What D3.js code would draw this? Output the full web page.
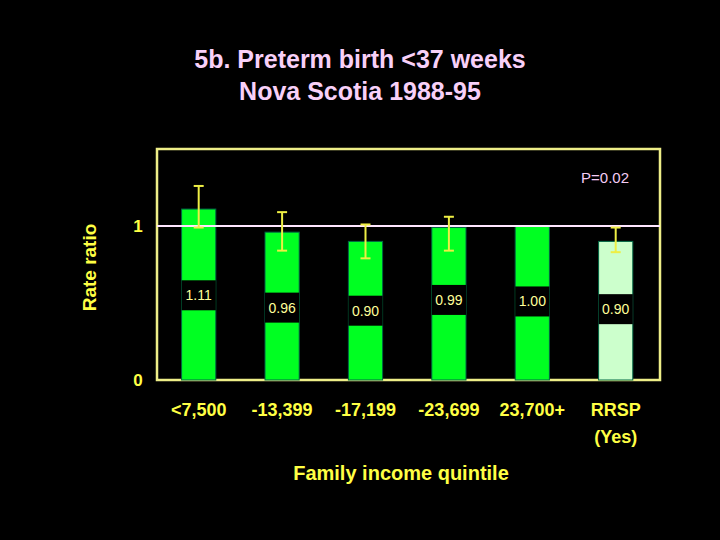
<!DOCTYPE html>
<html><head><meta charset="utf-8">
<script src="https://cdn.jsdelivr.net/npm/d3@7"></script>
<style>body{margin:0;background:#000}svg{display:block}text{font-family:"Liberation Sans",Arial,sans-serif}</style>
</head><body>
<svg id="chart" width="720" height="540"></svg>
<script>
const categories = ["<7,500", "-13,399", "-17,199", "-23,699", "23,700+", "RRSP"];
const subLabels = ["", "", "", "", "", "(Yes)"];
const rateRatio = [1.11, 0.96, 0.90, 0.99, 1.00, 0.90];
const ciLow = [0.99, 0.84, 0.79, 0.84, null, 0.83];
const ciHigh = [1.26, 1.09, 1.01, 1.06, null, 0.99];
const labelPos = [0.55, 0.47, 0.45, 0.52, 0.51, 0.46];
const yTicks = [0, 1];

const svg = d3.select("#chart");
const plot = { left: 157, right: 660, top: 149, bottom: 380 };

const x = d3.scaleBand().domain(categories).range([plot.left, plot.left + 6 * 83.4])
    .paddingInner(0.59).paddingOuter(0.295);
const y = d3.scaleLinear().domain([0, 1.5]).range([plot.bottom, plot.top]);

svg.append("text").attr("x", 360).attr("y", 68).attr("text-anchor", "middle").attr("font-weight", "bold")
    .attr("fill", "#f8d0f8").attr("font-size", 25).text("5b. Preterm birth <37 weeks");
svg.append("text").attr("x", 360).attr("y", 100).attr("text-anchor", "middle").attr("font-weight", "bold")
    .attr("fill", "#f8d0f8").attr("font-size", 25).text("Nova Scotia 1988-95");

// frame
svg.append("rect").attr("x", plot.left).attr("y", plot.top)
    .attr("width", plot.right - plot.left).attr("height", plot.bottom - plot.top)
    .attr("fill", "none").attr("stroke", "#eeee88").attr("stroke-width", 2.5);

// bars
categories.forEach((c, i) => {
    svg.append("rect").attr("x", x(c)).attr("y", y(rateRatio[i]))
        .attr("width", x.bandwidth()).attr("height", y(0) - y(rateRatio[i]))
        .attr("fill", i === 5 ? "#ccffcc" : "#00ff22").attr("stroke", "#064").attr("stroke-width", 1);
});

// reference line at 1
svg.append("line").attr("x1", plot.left).attr("x2", plot.right)
    .attr("y1", y(1)).attr("y2", y(1)).attr("stroke", "#ffe6ff").attr("stroke-width", 2);

// error bars
categories.forEach((c, i) => {
    if (ciLow[i] == null) return;
    const cx = x(c) + x.bandwidth() / 2;
    const g = svg.append("g").attr("stroke", "#eeee44").attr("stroke-width", 2);
    g.append("line").attr("x1", cx).attr("x2", cx).attr("y1", y(ciLow[i])).attr("y2", y(ciHigh[i]));
    [ciLow[i], ciHigh[i]].forEach(v =>
        g.append("line").attr("x1", cx - 5).attr("x2", cx + 5).attr("y1", y(v)).attr("y2", y(v)));
});

// value labels
categories.forEach((c, i) => {
    const cy = y(labelPos[i]);
    svg.append("rect").attr("x", x(c)).attr("y", cy - 15).attr("width", x.bandwidth()).attr("height", 30).attr("fill", "#000");
    svg.append("text").attr("x", x(c) + x.bandwidth() / 2).attr("y", cy + 5).attr("text-anchor", "middle")
        .attr("fill", "#ffff99").attr("font-size", 14).text(rateRatio[i].toFixed(2));
});

svg.append("text").attr("x", 629).attr("y", 183).attr("text-anchor", "end")
    .attr("fill", "#f4ccf4").attr("font-size", 15).text("P=0.02");

// y axis ticks
yTicks.forEach(t => svg.append("text").attr("x", 138).attr("y", y(t) + 6).attr("text-anchor", "middle")
    .attr("fill", "#ffff44").attr("font-size", 17).attr("font-weight", "bold").text(t));

svg.append("text").attr("transform", `translate(96,${(plot.top + plot.bottom) / 2 + 3}) rotate(-90)`)
    .attr("text-anchor", "middle").attr("fill", "#ffff44").attr("font-size", 19).attr("font-weight", "bold").text("Rate ratio");

// x tick labels
categories.forEach((c, i) => {
    const cx = x(c) + x.bandwidth() / 2;
    svg.append("text").attr("x", cx).attr("y", 416).attr("text-anchor", "middle")
        .attr("fill", "#ffff44").attr("font-size", 18).attr("font-weight", "bold").text(c);
    if (subLabels[i]) svg.append("text").attr("x", cx).attr("y", 443).attr("text-anchor", "middle")
        .attr("fill", "#ffff44").attr("font-size", 18).attr("font-weight", "bold").text(subLabels[i]);
});

svg.append("text").attr("x", 401).attr("y", 480).attr("text-anchor", "middle")
    .attr("fill", "#ffff44").attr("font-size", 20).attr("font-weight", "bold").text("Family income quintile");
</script>
</body></html>
